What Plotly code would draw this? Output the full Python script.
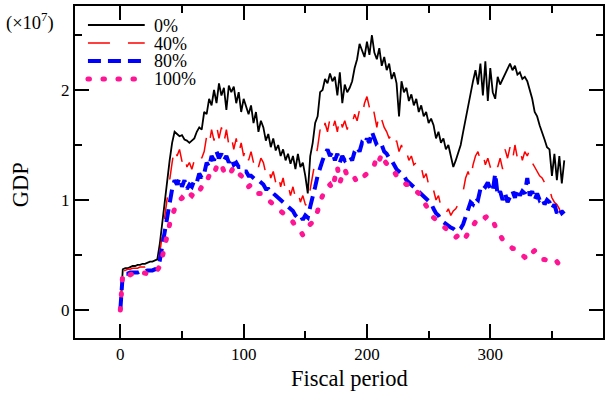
import plotly.graph_objects as go

# ---------------- data (GDP in units of 1e7) ----------------
periods = list(range(0, 361, 2))

gdp_0 = [
    0, .37, .38, .38, .39, .40, .40, .41, .41,
    .42, .42, .43, .44, .44, .45, .46, .60, .80,
    1.00, 1.18, 1.36, 1.52, 1.62, 1.60, 1.58, 1.59, 1.55, 1.54,
    1.52, 1.54, 1.56, 1.62, 1.66, 1.64, 1.80, 1.78, 1.92,
    1.86, 2.00, 1.88, 2.06, 1.95, 2.02, 1.82, 2.04, 1.98, 2.03,
    1.88, 1.98, 1.80, 1.92, 1.85, 1.78, 1.86, 1.70, 1.80, 1.62,
    1.72, 1.66, 1.54, 1.60, 1.48, 1.56, 1.45, 1.50, 1.40,
    1.46, 1.36, 1.42, 1.33, 1.40, 1.28, 1.42, 1.30, 1.34, 1.22,
    1.06, 1.40, 1.52, 1.70, 1.76, 1.98, 2.00, 2.10, 2.06,
    2.15, 2.08, 2.12, 1.95, 2.16, 1.88, 2.05, 1.98, 2.02, 2.08,
    2.20, 2.28, 2.42, 2.36, 2.30, 2.44, 2.32, 2.50, 2.34,
    2.28, 2.38, 2.22, 2.30, 2.18, 2.24, 2.10, 2.16, 2.06, 1.76,
    2.08, 1.98, 2.02, 1.90, 1.96, 1.86, 1.92, 1.80, 1.86, 1.76,
    1.80, 1.70, 1.74, 1.68, 1.56, 1.62, 1.52, 1.56, 1.46,
    1.50, 1.40, 1.30, 1.36, 1.44, 1.50, 1.62, 1.74, 1.86, 1.95,
    2.08, 2.18, 2.05, 2.24, 1.95, 2.26, 1.90, 2.20, 1.98,
    1.92, 2.12, 2.05, 2.10, 2.14, 2.20, 2.24, 2.18, 2.22, 2.14,
    2.16, 2.10, 2.12, 2.08, 2.00, 1.92, 1.80, 1.76, 1.68, 1.62,
    1.55, 1.48, 1.46, 1.22, 1.42, 1.18, 1.40, 1.15, 1.36,
]

gdp_40 = [
    0, .35, .36, .37, .37, .38, .38, .38, .39,
    .39, .39, .40, .40, .41, .41, .42, .52, .68,
    .86, 1.02, 1.18, 1.34, 1.48, 1.40, 1.46, 1.35, 1.42, 1.30,
    1.34, 1.28, 1.36, 1.40, 1.44, 1.38, 1.44, 1.58, 1.50,
    1.64, 1.54, 1.68, 1.56, 1.66, 1.52, 1.64, 1.50, 1.58, 1.46,
    1.56, 1.42, 1.52, 1.40, 1.48, 1.36, 1.44, 1.34, 1.40, 1.30,
    1.38, 1.34, 1.24, 1.30, 1.20, 1.26, 1.16, 1.24, 1.12,
    1.20, 1.08, 1.14, 1.04, 1.12, 1.02, 1.08, 0.98, 1.04, 0.96,
    0.94, 1.10, 1.22, 1.36, 1.48, 1.64, 1.58, 1.70, 1.62,
    1.74, 1.64, 1.72, 1.62, 1.76, 1.66, 1.72, 1.64, 1.74, 1.70,
    1.78, 1.72, 1.82, 1.76, 1.88, 1.94, 1.84, 1.90, 1.78,
    1.66, 1.80, 1.72, 1.66, 1.62, 1.56, 1.60, 1.50, 1.54, 1.44,
    1.50, 1.40, 1.44, 1.36, 1.40, 1.32, 1.34, 1.26, 1.30, 1.20,
    1.24, 1.14, 1.18, 1.10, 1.00, 1.04, 0.94, 0.96, 0.88,
    0.92, 0.86, 0.90, 0.92, 0.96, 1.02, 1.08, 1.20, 1.26, 1.18,
    1.32, 1.40, 1.44, 1.36, 1.42, 1.32, 1.38, 1.30, 1.32,
    1.38, 1.30, 1.38, 1.28, 1.46, 1.38, 1.48, 1.36, 1.50, 1.38,
    1.46, 1.36, 1.44, 1.40, 1.46, 1.34, 1.30, 1.26, 1.22, 1.20,
    1.16, 1.18, 1.10, 1.02, 0.98, 0.96, 0.92, 0.84, 0.80,
]

gdp_80 = [
    0, .33, .33, .33, .34, .34, .34, .34, .35,
    .35, .35, .36, .36, .36, .37, .37, .45, .58,
    .72, .86, .98, 1.10, 1.18, 1.14, 1.20, 1.12, 1.18, 1.10,
    1.14, 1.12, 1.18, 1.16, 1.24, 1.20, 1.24, 1.34, 1.30,
    1.40, 1.36, 1.44, 1.38, 1.42, 1.36, 1.40, 1.34, 1.38, 1.32,
    1.34, 1.30, 1.30, 1.26, 1.26, 1.22, 1.22, 1.20, 1.18, 1.18,
    1.16, 1.14, 1.10, 1.10, 1.06, 1.06, 1.04, 1.02, 1.00,
    0.98, 0.96, 0.94, 0.92, 0.90, 0.86, 0.84, 0.86, 0.82, 0.86,
    0.84, 0.94, 1.02, 1.12, 1.22, 1.30, 1.36, 1.42, 1.46,
    1.40, 1.44, 1.36, 1.42, 1.34, 1.40, 1.36, 1.38, 1.40, 1.36,
    1.44, 1.48, 1.44, 1.52, 1.50, 1.56, 1.52, 1.62, 1.55,
    1.50, 1.48, 1.50, 1.44, 1.42, 1.38, 1.36, 1.32, 1.28, 1.26,
    1.24, 1.22, 1.18, 1.16, 1.14, 1.12, 1.10, 1.08, 1.06, 1.04,
    1.02, 1.00, 0.97, 0.92, 0.88, 0.86, 0.82, 0.80, 0.78,
    0.77, 0.75, 0.74, 0.72, 0.72, 0.74, 0.78, 0.84, 0.90, 0.98,
    0.96, 1.02, 1.00, 1.10, 1.14, 1.12, 1.16, 1.10, 1.08,
    1.24, 1.04, 1.08, 1.00, 1.06, 0.98, 1.04, 1.08, 1.02, 1.10,
    1.04, 1.08, 1.06, 1.20, 1.04, 1.08, 1.00, 1.06, 1.00, 1.02,
    0.96, 1.00, 0.98, 0.92, 0.96, 0.88, 0.92, 0.88, 0.90,
]

gdp_100 = [
    0, .34, .33, .32, .32, .33, .33, .32, .33,
    .34, .33, .33, .34, .34, .35, .36, .40, .48,
    .56, .68, .78, .86, .92, .97, 1.00, 1.02, 1.00, 1.04,
    1.06, 1.04, 1.08, 1.10, 1.08, 1.12, 1.12, 1.18, 1.22,
    1.26, 1.24, 1.30, 1.28, 1.32, 1.26, 1.30, 1.28, 1.26, 1.30,
    1.28, 1.24, 1.22, 1.20, 1.14, 1.12, 1.14, 1.10, 1.08, 1.06,
    1.06, 1.04, 1.02, 1.00, 0.98, 0.96, 0.94, 0.92, 0.90,
    0.88, 0.86, 0.84, 0.82, 0.80, 0.76, 0.74, 0.72, 0.68, 0.72,
    0.74, 0.78, 0.80, 0.84, 0.90, 0.98, 1.04, 1.10, 1.12,
    1.14, 1.10, 1.20, 1.30, 1.16, 1.24, 1.28, 1.22, 1.20, 1.18,
    1.20, 1.16, 1.18, 1.20, 1.22, 1.24, 1.26, 1.28, 1.32,
    1.40, 1.36, 1.42, 1.36, 1.32, 1.30, 1.28, 1.26, 1.22, 1.20,
    1.18, 1.16, 1.14, 1.14, 1.12, 1.10, 1.08, 1.06, 1.02, 0.98,
    0.94, 0.90, 0.88, 0.84, 0.82, 0.80, 0.78, 0.76, 0.74,
    0.73, 0.70, 0.68, 0.66, 0.68, 0.70, 0.70, 0.66, 0.70, 0.74,
    0.76, 0.80, 0.82, 0.84, 0.86, 0.84, 0.86, 0.84, 0.82,
    0.76, 0.72, 0.66, 0.64, 0.62, 0.60, 0.58, 0.56, 0.56, 0.54,
    0.52, 0.50, 0.48, 0.49, 0.47, 0.52, 0.54, 0.50, 0.48, 0.46,
    0.46, 0.45, 0.45, 0.44, 0.42, 0.44, 0.40, 0.38, 0.37,
]

series_names = ["0%", "40%", "80%", "100%"]
series_values = [gdp_0, gdp_40, gdp_80, gdp_100]

x_tick_values = [0, 100, 200, 300]
x_minor_values = [50, 150, 250, 350]
y_tick_values = [0, 1, 2]
y_minor_values = [0.5, 1.5, 2.5]
y_tick_labels = ["0", "1", "2"]

# ---------------- styling ----------------
W, H = 606, 393
ML, MR, MT, MB = 75, 1, 6, 55
PW, PH = W - ML - MR, H - MT - MB
FONT = "Liberation Serif, Times New Roman, serif"

styles = [
    dict(color="#000000", width=1.8, dash="solid"),
    dict(color="#ff0000", width=1.5, dash="22px,18px"),
    dict(color="#0000ff", width=4, dash="13px,7px"),
    dict(color="#ff1493", width=5, dash="1.5px,13.5px"),
]


def px_x(px):
    return (px - ML) / PW


def px_y(py):
    return (H - MB - py) / PH


fig = go.Figure()
for name, vals, st in zip(series_names, series_values, styles):
    fig.add_trace(go.Scatter(x=periods, y=vals, mode="lines", name=name,
                             line=st, showlegend=False, hoverinfo="skip"))

# legend (drawn manually to match the long line samples)
legend_rows = [25, 43, 61, 79]
for name, st, ry in zip(series_names, styles, legend_rows):
    fig.add_shape(type="line", xref="paper", yref="paper",
                  x0=px_x(88), x1=px_x(145), y0=px_y(ry), y1=px_y(ry),
                  line=st)
    fig.add_annotation(xref="paper", yref="paper", x=px_x(153), y=px_y(ry),
                       text=name, showarrow=False, xanchor="left",
                       yanchor="middle", height=17, borderpad=0,
                       font=dict(family=FONT, size=18, color="black"))

fig.add_annotation(xref="paper", yref="paper", x=px_x(4), y=px_y(21),
                   text="(×10<sup>7</sup>)", showarrow=False, xanchor="left",
                   yanchor="middle", font=dict(family=FONT, size=18.5, color="black"))
fig.add_annotation(xref="paper", yref="paper", x=px_x(20), y=px_y(185),
                   text="GDP", textangle=-90, showarrow=False,
                   xanchor="center", yanchor="middle",
                   font=dict(family=FONT, size=22.5, color="black"))
fig.add_annotation(xref="paper", yref="paper", x=px_x(351), y=px_y(378),
                   text="Fiscal period", showarrow=False,
                   xanchor="center", yanchor="middle",
                   font=dict(family=FONT, size=22.5, color="black"))

axis_common = dict(showline=True, linewidth=2, linecolor="black", mirror="allticks",
                   ticks="inside", ticklen=14, tickwidth=2, tickcolor="black",
                   showgrid=False, zeroline=False, ticklabelposition="outside",
                   tickfont=dict(family=FONT, size=17, color="black"))

fig.update_xaxes(range=[-36.75, 391.4], tickvals=x_tick_values,
                 ticktext=[str(v) for v in x_tick_values],
                 minor=dict(tickvals=x_minor_values, ticks="inside", ticklen=7,
                            tickwidth=2, tickcolor="black", showgrid=False),
                 **axis_common)
fig.update_yaxes(range=[-0.2545, 2.7636], tickvals=y_tick_values,
                 ticktext=y_tick_labels, side="left",
                 minor=dict(tickvals=y_minor_values, ticks="inside", ticklen=7,
                            tickwidth=2, tickcolor="black", showgrid=False),
                 **axis_common)

fig.update_layout(width=W, height=H, margin=dict(l=ML, r=MR, t=MT, b=MB),
                  paper_bgcolor="white", plot_bgcolor="white",
                  font=dict(family=FONT, color="black"))

# round caps for the dotted (100%) series and its legend sample
post_js = (
    "document.body.style.margin='0';"
    "document.body.style.overflow='hidden';"
    "var st=document.createElement('style');"
    "st.textContent='.scatterlayer .trace:nth-of-type(4) path.js-line,"
    " .shapelayer path[data-index=\"3\"]{stroke-linecap:round !important;}';"
    "document.head.appendChild(st);"
)

fig.write_html("out.html", config={"displayModeBar": False}, post_script=post_js)
